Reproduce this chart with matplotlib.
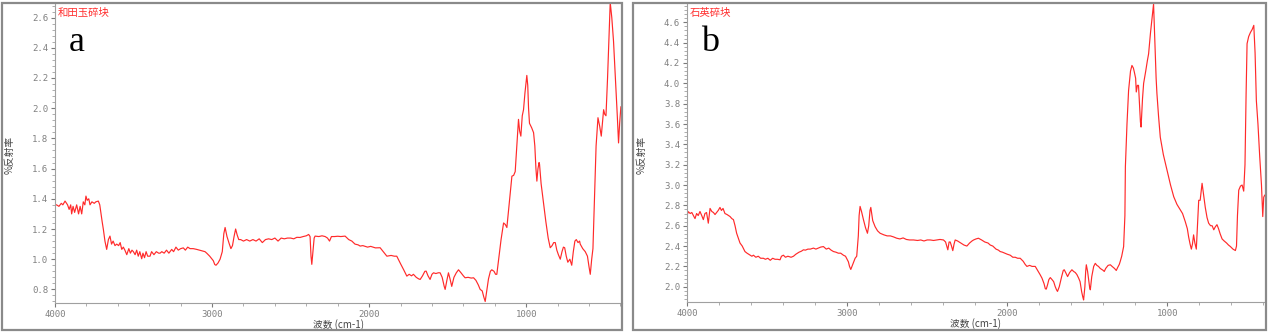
import matplotlib
matplotlib.use("Agg")
import matplotlib.pyplot as plt
from matplotlib.patches import Rectangle
from matplotlib.ticker import MultipleLocator

plt.rcParams['font.family'] = ['Noto Sans CJK SC', 'DejaVu Sans']

# 和田玉碎块 (a)
wn_a = [4000, 3990, 3975, 3960, 3950, 3936, 3920, 3910, 3900, 3894, 3885, 3875, 3862, 3850, 3840,
        3830, 3820, 3810, 3803, 3795, 3785, 3777, 3765, 3750, 3740, 3724, 3715, 3700, 3692, 3682,
        3671, 3660, 3650, 3640, 3630, 3618, 3607, 3595, 3585, 3575, 3565, 3555, 3543, 3530, 3520,
        3510, 3501, 3490, 3480, 3470, 3460, 3448, 3440, 3430, 3420, 3410, 3395, 3385, 3370, 3355,
        3340, 3331, 3320, 3305, 3290, 3275, 3257, 3245, 3230, 3215, 3200, 3183, 3170, 3155, 3140,
        3120, 3098, 3080, 3060, 3045, 3034, 3015, 3000, 2992, 2983, 2975, 2962, 2949, 2935, 2925,
        2917, 2905, 2890, 2880, 2870, 2860, 2850, 2840, 2830, 2818, 2800, 2780, 2760, 2740, 2720,
        2700, 2680, 2660, 2640, 2620, 2600, 2580, 2560, 2540, 2520, 2500, 2480, 2460, 2440, 2420,
        2400, 2385, 2376, 2370, 2365, 2358, 2350, 2344, 2320, 2300, 2280, 2265, 2252, 2240, 2220,
        2200, 2180, 2153, 2130, 2110, 2090, 2070, 2057, 2040, 2010, 1990, 1960, 1930, 1910, 1895,
        1887, 1860, 1840, 1824, 1800, 1780, 1760, 1745, 1730, 1718, 1700, 1685, 1675, 1660, 1645,
        1637, 1625, 1612, 1600, 1590, 1575, 1560, 1548, 1535, 1522, 1516, 1505, 1495, 1485, 1474,
        1460, 1445, 1431, 1415, 1400, 1389, 1370, 1350, 1335, 1320, 1305, 1293, 1280, 1270, 1261,
        1250, 1240, 1228, 1219, 1205, 1195, 1187, 1175, 1160, 1144, 1133, 1123, 1110, 1100, 1091,
        1080, 1070, 1060, 1049, 1042, 1034, 1025, 1017, 1008, 996, 990, 985, 979, 965, 953,
        945, 938, 932, 925, 918, 915, 905, 890, 875, 860, 847, 835, 825, 815, 805,
        795, 783, 772, 763, 755, 745, 735, 722, 710, 700, 690, 681, 670, 660, 656,
        640, 624, 610, 600, 592, 583, 575, 565, 555, 543, 532, 522, 515, 507, 500,
        492, 482, 472, 465, 455, 444, 432, 420, 412, 405, 397, 390]
refl_a = [1.36, 1.36, 1.35, 1.37, 1.36, 1.385, 1.36, 1.33, 1.36, 1.30, 1.35, 1.31, 1.36, 1.30, 1.35,
          1.30, 1.38, 1.36, 1.418, 1.39, 1.40, 1.36, 1.38, 1.37, 1.38, 1.385, 1.36, 1.25, 1.197, 1.12,
          1.065, 1.13, 1.153, 1.10, 1.12, 1.09, 1.10, 1.09, 1.11, 1.065, 1.08, 1.06, 1.03, 1.07, 1.04,
          1.06, 1.05, 1.03, 1.06, 1.02, 1.05, 1.003, 1.04, 1.01, 1.05, 1.02, 1.02, 1.05, 1.03, 1.05,
          1.04, 1.04, 1.05, 1.04, 1.06, 1.04, 1.065, 1.05, 1.08, 1.06, 1.07, 1.075, 1.06, 1.08, 1.07,
          1.07, 1.065, 1.06, 1.055, 1.05, 1.04, 1.02, 1.00, 0.99, 0.965, 0.96, 0.975, 1.00, 1.05, 1.17,
          1.21, 1.15, 1.10, 1.07, 1.09, 1.15, 1.20, 1.16, 1.13, 1.13, 1.12, 1.13, 1.12, 1.13, 1.12,
          1.135, 1.11, 1.13, 1.135, 1.13, 1.14, 1.12, 1.14, 1.135, 1.14, 1.14, 1.135, 1.145, 1.144, 1.15,
          1.155, 1.164, 1.15, 1.02, 0.966, 1.05, 1.14, 1.153, 1.15, 1.155, 1.15, 1.14, 1.12, 1.15, 1.15,
          1.152, 1.15, 1.153, 1.13, 1.12, 1.10, 1.095, 1.087, 1.09, 1.08, 1.085, 1.075, 1.076, 1.05, 1.03,
          1.02, 1.025, 1.02, 1.02, 0.97, 0.93, 0.888, 0.90, 0.89, 0.90, 0.88, 0.87, 0.866, 0.89, 0.92,
          0.921, 0.89, 0.866, 0.90, 0.91, 0.905, 0.91, 0.91, 0.88, 0.82, 0.80, 0.86, 0.91, 0.87, 0.82,
          0.88, 0.91, 0.93, 0.91, 0.89, 0.877, 0.88, 0.875, 0.877, 0.86, 0.83, 0.80, 0.79, 0.75, 0.72,
          0.80, 0.87, 0.92, 0.93, 0.92, 0.90, 0.90, 1.00, 1.13, 1.24, 1.23, 1.21, 1.35, 1.46, 1.55,
          1.555, 1.58, 1.75, 1.926, 1.85, 1.815, 1.95, 1.99, 2.10, 2.217, 2.15, 2.00, 1.90, 1.87, 1.838,
          1.75, 1.60, 1.517, 1.60, 1.64, 1.628, 1.50, 1.374, 1.25, 1.14, 1.076, 1.09, 1.11, 1.11, 1.06,
          1.03, 1.00, 1.05, 1.08, 1.076, 1.02, 0.98, 1.00, 0.96, 1.05, 1.12, 1.13, 1.11, 1.12, 1.10,
          1.07, 1.05, 1.02, 0.95, 0.90, 1.00, 1.07, 1.40, 1.75, 1.937, 1.88, 1.815, 1.90, 1.99, 1.96,
          1.95, 2.20, 2.50, 2.70, 2.60, 2.444, 2.20, 1.95, 1.77, 1.90, 2.01, 1.98]

# 石英碎块 (b)
wn_b = [4000, 3992, 3980, 3970, 3960, 3950, 3940, 3930, 3919, 3908, 3898, 3888, 3878, 3867, 3856,
        3845, 3835, 3825, 3815, 3805, 3794, 3785, 3775, 3763, 3750, 3740, 3731, 3720, 3710, 3700,
        3690, 3680, 3669, 3655, 3638, 3625, 3615, 3606, 3595, 3585, 3570, 3555, 3540, 3523, 3510,
        3495, 3480, 3465, 3450, 3435, 3419, 3410, 3398, 3385, 3370, 3350, 3335, 3320, 3300, 3285,
        3273, 3260, 3245, 3230, 3210, 3195, 3180, 3165, 3148, 3130, 3115, 3100, 3085, 3070, 3055,
        3040, 3023, 3010, 2992, 2985, 2977, 2965, 2950, 2940, 2930, 2925, 2919, 2910, 2898, 2885,
        2873, 2865, 2857, 2852, 2840, 2825, 2810, 2794, 2770, 2750, 2730, 2710, 2690, 2670, 2650,
        2630, 2610, 2585, 2560, 2540, 2520, 2500, 2481, 2460, 2440, 2420, 2398, 2385, 2371, 2363,
        2356, 2348, 2340, 2332, 2325, 2310, 2290, 2270, 2252, 2235, 2220, 2210, 2195, 2180, 2160,
        2140, 2120, 2106, 2090, 2070, 2055, 2044, 2030, 2015, 2000, 1981, 1965, 1950, 1935, 1919,
        1900, 1888, 1877, 1860, 1845, 1825, 1810, 1795, 1783, 1770, 1762, 1756, 1748, 1740, 1731,
        1720, 1710, 1700, 1692, 1686, 1675, 1660, 1650, 1644, 1635, 1623, 1610, 1596, 1585, 1575,
        1565, 1554, 1545, 1535, 1528, 1523, 1515, 1510, 1506, 1498, 1490, 1485, 1481, 1472, 1460,
        1450, 1440, 1430, 1419, 1410, 1400, 1394, 1385, 1370, 1356, 1345, 1330, 1319, 1310, 1300,
        1294, 1285, 1273, 1265, 1262, 1252, 1242, 1230, 1221, 1212, 1206, 1198, 1194, 1187, 1180,
        1174, 1168, 1164, 1155, 1148, 1135, 1125, 1117, 1105, 1095, 1086, 1078, 1070, 1065, 1055,
        1044, 1025, 1002, 980, 960, 940, 919, 905, 888, 875, 867, 858, 850, 843, 836,
        828, 819, 812, 804, 795, 783, 773, 763, 752, 742, 730, 720, 710, 700, 690,
        680, 670, 658, 645, 630, 618, 606, 590, 575, 568, 562, 554, 543, 533, 523,
        515, 508, 502, 492, 481, 470, 460, 452, 444, 434, 423, 412, 404, 398, 392]
refl_b = [2.70, 2.738, 2.72, 2.73, 2.70, 2.67, 2.72, 2.70, 2.74, 2.70, 2.66, 2.72, 2.73, 2.625, 2.77,
          2.74, 2.73, 2.71, 2.73, 2.75, 2.78, 2.75, 2.77, 2.72, 2.71, 2.70, 2.69, 2.67, 2.66, 2.60,
          2.526, 2.48, 2.43, 2.40, 2.346, 2.33, 2.32, 2.31, 2.30, 2.31, 2.29, 2.30, 2.28, 2.28, 2.27,
          2.28, 2.26, 2.28, 2.27, 2.27, 2.265, 2.30, 2.31, 2.29, 2.30, 2.29, 2.30, 2.32, 2.34, 2.35,
          2.363, 2.36, 2.37, 2.37, 2.38, 2.37, 2.38, 2.39, 2.395, 2.37, 2.38, 2.36, 2.346, 2.34, 2.33,
          2.33, 2.31, 2.30, 2.245, 2.20, 2.17, 2.22, 2.28, 2.30, 2.50, 2.70, 2.79, 2.74, 2.66, 2.58,
          2.526, 2.60, 2.75, 2.78, 2.65, 2.59, 2.55, 2.526, 2.51, 2.50, 2.50, 2.49, 2.477, 2.47, 2.48,
          2.465, 2.46, 2.46, 2.455, 2.46, 2.45, 2.46, 2.46, 2.455, 2.46, 2.465, 2.46, 2.44, 2.363, 2.44,
          2.44, 2.40, 2.355, 2.42, 2.46, 2.45, 2.43, 2.41, 2.40, 2.43, 2.45, 2.46, 2.47, 2.477, 2.46,
          2.44, 2.43, 2.41, 2.40, 2.37, 2.36, 2.346, 2.34, 2.33, 2.32, 2.31, 2.29, 2.29, 2.28, 2.28,
          2.25, 2.22, 2.20, 2.21, 2.20, 2.20, 2.16, 2.12, 2.085, 2.03, 1.98, 1.977, 2.02, 2.07, 2.09,
          2.07, 2.05, 2.00, 1.97, 1.954, 2.00, 2.10, 2.16, 2.167, 2.14, 2.10, 2.14, 2.167, 2.15, 2.14,
          2.12, 2.085, 2.05, 1.95, 1.90, 1.87, 2.00, 2.15, 2.216, 2.15, 2.05, 1.99, 1.97, 2.10, 2.20,
          2.23, 2.21, 2.20, 2.18, 2.17, 2.16, 2.15, 2.18, 2.21, 2.216, 2.20, 2.18, 2.16, 2.19, 2.22,
          2.25, 2.30, 2.395, 2.70, 3.18, 3.60, 3.93, 4.12, 4.176, 4.15, 4.11, 4.05, 3.915, 3.98, 3.98,
          3.80, 3.62, 3.57, 3.85, 4.00, 4.12, 4.22, 4.29, 4.50, 4.65, 4.78, 4.40, 4.05, 3.90, 3.68,
          3.47, 3.30, 3.147, 3.00, 2.885, 2.81, 2.755, 2.72, 2.64, 2.57, 2.49, 2.42, 2.37, 2.42, 2.51,
          2.43, 2.37, 2.60, 2.85, 2.85, 3.017, 2.90, 2.78, 2.68, 2.625, 2.60, 2.60, 2.56, 2.59, 2.61,
          2.57, 2.52, 2.47, 2.45, 2.43, 2.41, 2.395, 2.37, 2.356, 2.40, 2.70, 2.95, 2.99, 3.0, 2.94,
          3.20, 3.90, 4.39, 4.46, 4.50, 4.53, 4.57, 4.30, 3.83, 3.60, 3.28, 3.00, 2.69, 2.88, 2.90]

W, H = 1269, 333
fig = plt.figure(figsize=(W / 100, H / 100), dpi=100)

# panel frames (pixel boxes)
for x0, x1 in [(2, 622), (633, 1266)]:
    fig.patches.append(Rectangle((x0 / W, 3 / H), (x1 - x0) / W, 327 / H, transform=fig.transFigure,
                                 fill=False, edgecolor='#8a8a8a', linewidth=1.6))

panels = [
    dict(box=(55, 622, 4, 303), x=wn_a, y=refl_a, ylim=(0.71, 2.69), title='和田玉碎块', tag='a'),
    dict(box=(687, 1265, 4, 302), x=wn_b, y=refl_b, ylim=(1.85, 4.78), title='石英碎块', tag='b'),
]

grey = '#7a7a7a'
for p in panels:
    l, r, t, b = p['box']
    ax = fig.add_axes([l / W, 1 - b / H, (r - l) / W, (b - t) / H])
    ax.plot(p['x'], p['y'], color='#ff2a2a', linewidth=0.85)
    ax.set_xlim(4000, 390)
    ax.set_ylim(*p['ylim'])
    ax.set_xticks([4000, 3000, 2000, 1000])
    ax.xaxis.set_minor_locator(MultipleLocator(200))
    ax.yaxis.set_major_locator(MultipleLocator(0.2))
    ax.yaxis.set_minor_locator(MultipleLocator(0.04))
    ax.yaxis.set_major_formatter(matplotlib.ticker.FormatStrFormatter('%.1f'))
    for s in ['top', 'right']:
        ax.spines[s].set_visible(False)
    ax.spines['bottom'].set_color('#a0a0a0')
    ax.spines['left'].set_color('#a0a0a0')
    ax.spines['left'].set_linestyle((0, (1, 1)))
    ax.tick_params(axis='both', which='major', colors=grey, length=3, width=0.8,
                   labelsize=6.5, pad=2)
    ax.tick_params(axis='both', which='minor', colors='#a0a0a0', length=2, width=0.6)
    for lab in ax.get_xticklabels() + ax.get_yticklabels():
        lab.set_fontfamily('DejaVu Sans Mono')
        lab.set_color('#808080')
    ax.set_xlabel('波数 (cm-1)', fontsize=7, color='#444444', labelpad=0)
    ax.text(0.005, 0.988, p['title'], transform=ax.transAxes, ha='left', va='top',
            fontsize=7.5, color='#ff3030')
    ax.text(0.025, 0.87, p['tag'], transform=ax.transAxes, ha='left', va='center',
            fontsize=26, family='Liberation Serif', color='black')
    fig.text((l - 45) / W, 1 - 155 / H, '%反射率', rotation=90, ha='center', va='center',
             fontsize=7, color='#444444')

fig.savefig('out.png', dpi=100)
